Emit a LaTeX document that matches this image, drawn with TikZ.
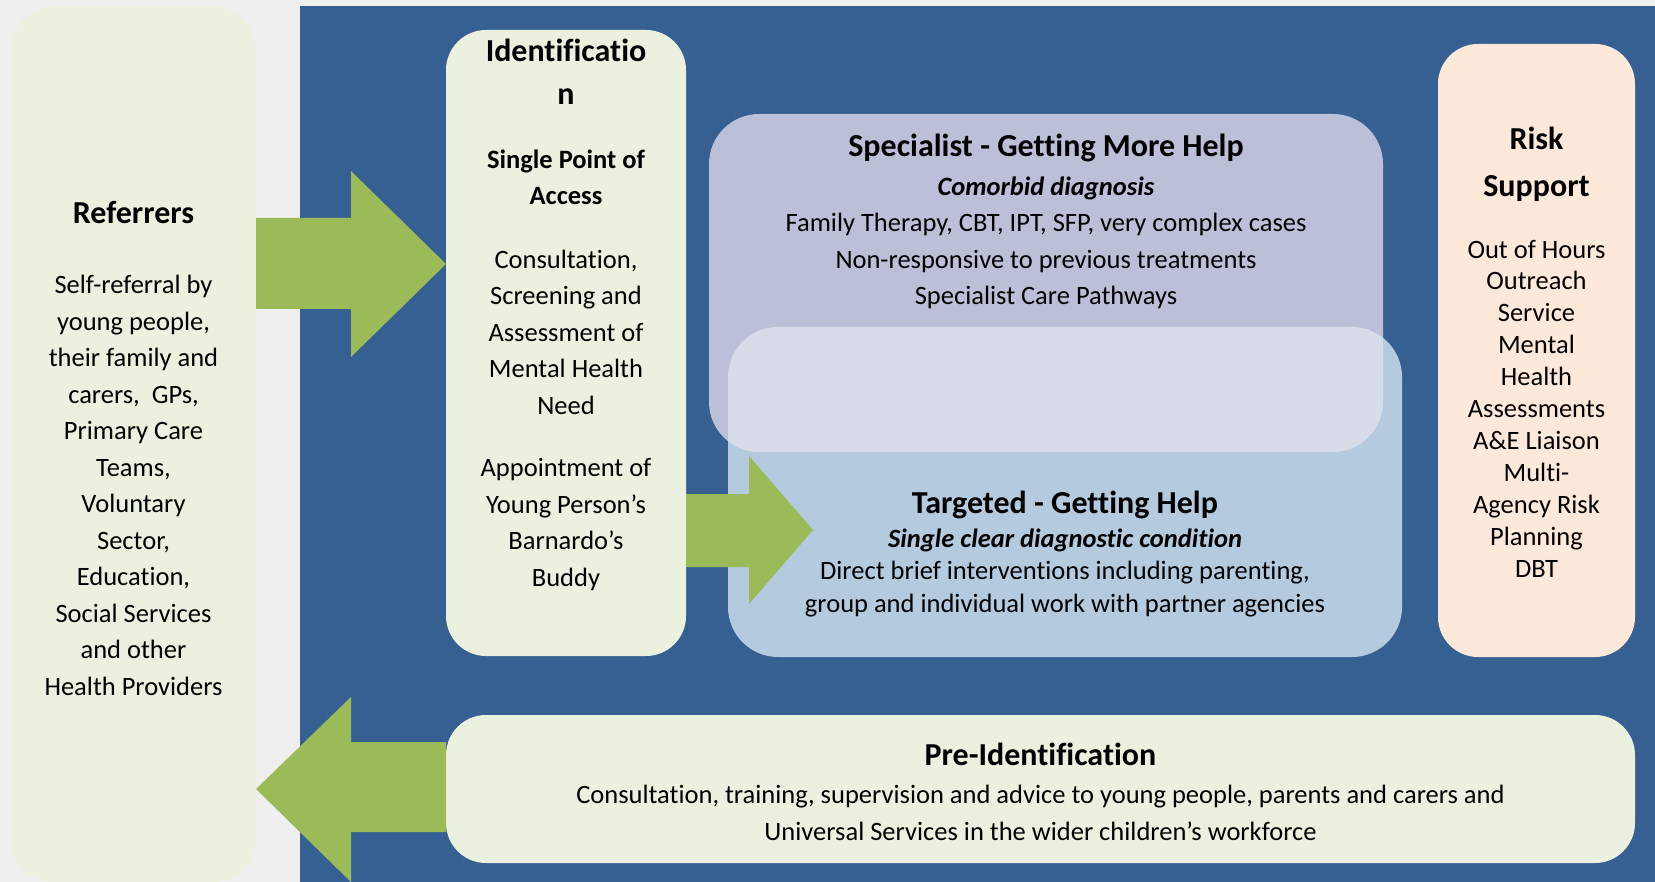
\documentclass[tikz,border=0pt]{standalone}
\usepackage{fontspec}
\setmainfont{Carlito}[Ligatures=NoCommon]
\definecolor{bggrey}{HTML}{EFEFEF}
\definecolor{bgblue}{HTML}{366092}
\definecolor{lgreen}{HTML}{EBF1DE}
\definecolor{agreen}{HTML}{9BBB59}
\definecolor{spec}{HTML}{BBC0D8}
\definecolor{targ}{HTML}{B3CADF}
\definecolor{overl}{HTML}{D8DCE8}
\definecolor{peach}{HTML}{FDE9D9}
\tikzset{
  box/.style={draw=none, inner sep=0pt, outer sep=0pt, rectangle},
  garrow/.style={fill=agreen},
  hd/.style={inner sep=0pt, align=center, font=\bfseries\fontsize{32}{43}\selectfont},
  sub/.style={inner sep=0pt, align=center, font=\bfseries\fontsize{26.5}{36}\selectfont},
  body/.style={inner sep=0pt, align=center, font=\fontsize{26.5}{36.5}\selectfont},
}
\begin{document}
\begin{tikzpicture}[x=1pt,y=-1pt]
\fill[bggrey] (0,0) rectangle (1655,882);
\useasboundingbox (0,0) rectangle (1655,882);
\fill[bgblue] (300,6) rectangle (1655,882);

% boxes
\node[box, fill=lgreen, rounded corners=43pt, minimum width=245pt, minimum height=875pt] (ref) at (133.5,444.5) {};
\node[box, fill=lgreen, rounded corners=40pt, minimum width=240pt, minimum height=626pt] (ident) at (566,343) {};
\node[box, fill=spec, rounded corners=50pt, minimum width=674pt, minimum height=338pt] (spec) at (1046,283) {};
\node[box, fill=targ, rounded corners=50pt, minimum width=674pt, minimum height=330pt] (targ) at (1065,492) {};
\begin{scope}
  \clip[rounded corners=50pt] (spec.south west) rectangle (spec.north east);
  \fill[overl, rounded corners=50pt] (targ.south west) rectangle (targ.north east);
\end{scope}
\node[box, fill=peach, rounded corners=40pt, minimum width=197pt, minimum height=613pt] (risk) at (1536.5,350.5) {};
\node[box, fill=lgreen, rounded corners=40pt, minimum width=1189pt, minimum height=148pt] (preid) at (1040.5,789) {};

% arrows
\fill[garrow] (ref.east |- 0,218) -- (351,218) -- (351,171) -- (ident.west |- 0,264)
  -- (351,357) -- (351,309) -- (ref.east |- 0,309) -- cycle;
\fill[garrow] (ident.east |- 0,494) -- (749,494) -- (749,456) -- (813,530)
  -- (749,604) -- (749,567) -- (ident.east |- 0,567) -- cycle;
\fill[garrow] (preid.west |- 0,742) -- (351,742) -- (351,697) -- (ref.east |- 0,789)
  -- (351,882) -- (351,832) -- (preid.west |- 0,832) -- cycle;

% texts
\node[hd] (refh) at (133.5,213) {Referrers};
\node[body] (refb) at (133.5,485.5) {Self-referral by\\young people,\\their family and\\carers,~ GPs,\\Primary Care\\Teams,\\Voluntary\\Sector,\\Education,\\Social Services\\and other\\Health Providers};

\node[hd] (identh) at (566,71.5) {Identificatio\\n};
\node[sub] (idents) at (566,177) {Single Point of\\Access};
\node[body] (identb1) at (566,332) {Consultation,\\Screening and\\Assessment of\\Mental Health\\Need};
\node[body] (identb2) at (566,524.5) {Appointment of\\Young Person’s\\Barnardo’s\\Buddy};

\node[hd] (spech) at (1046,147.5) {Specialist - Getting More Help};
\node[body] (specb) at (1046,243) {\textbf{\textit{Comorbid diagnosis}}\\Family Therapy, CBT, IPT, SFP, very complex cases\\Non-responsive to previous treatments\\Specialist Care Pathways};

\node[hd] (targh) at (1065,504.5) {Targeted - Getting Help};
\node[body, font=\fontsize{26.5}{32.5}\selectfont] (targb) at (1065,572.5) {\textbf{\textit{Single clear diagnostic condition}}\\Direct brief interventions including parenting,\\group and individual work with partner agencies};

\node[hd, font=\bfseries\fontsize{32}{47}\selectfont] (riskh) at (1536.5,164.5) {Risk\\Support};
\node[body, font=\fontsize{26.5}{31.9}\selectfont] (riskb) at (1536.5,408.5) {Out of Hours\\Outreach\\Service\\Mental\\Health\\Assessments\\A\&E Liaison\\Multi-\\Agency Risk\\Planning\\DBT};

\node[hd] (preh) at (1040.5,754) {Pre-Identification};
\node[body, font=\fontsize{26.5}{37}\selectfont] (preb) at (1040.5,812.5) {Consultation, training, supervision and advice to young people, parents and carers and\\Universal Services in the wider children’s workforce};
\end{tikzpicture}
\end{document}
